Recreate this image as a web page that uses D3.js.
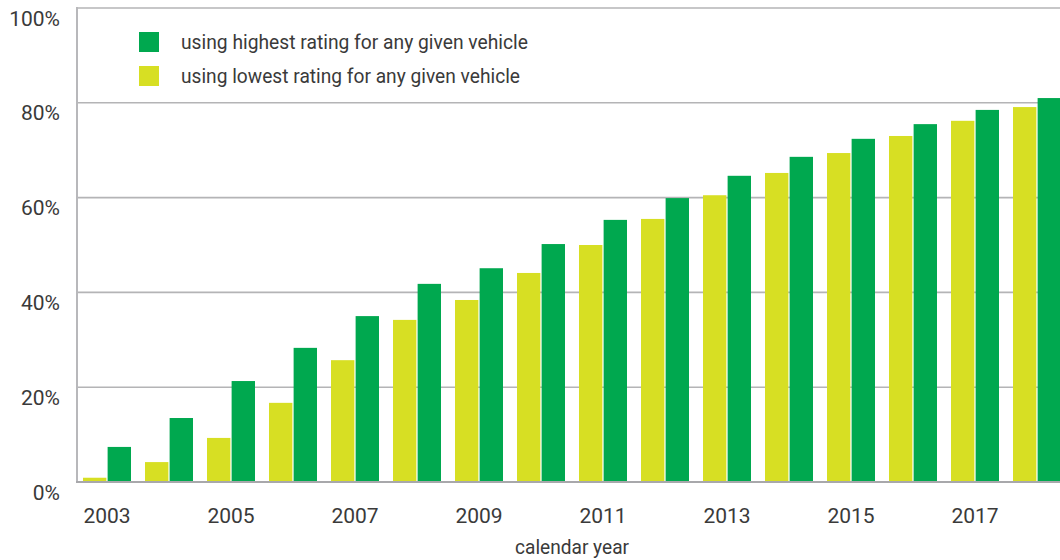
<!DOCTYPE html>
<html>
<head>
<meta charset="utf-8">
<script src="https://cdn.jsdelivr.net/npm/d3@7"></script>
<style>
  html, body { margin: 0; padding: 0; background: #fff; }
  svg { display: block; font-family: Roboto, "Liberation Sans", sans-serif; }
</style>
</head>
<body>
<svg id="chart" width="1060" height="560"></svg>
<script>
const years = ["2003","2004","2005","2006","2007","2008","2009","2010","2011","2012","2013","2014","2015","2016","2017","2018"];
const lowest  = [0.9, 4.2, 9.3, 16.7, 25.7, 34.2, 38.4, 44.1, 50.0, 55.5, 60.5, 65.2, 69.4, 73.0, 76.2, 79.1];
const highest = [7.4, 13.5, 21.3, 28.3, 35.0, 41.8, 45.1, 50.2, 55.3, 59.9, 64.6, 68.6, 72.4, 75.5, 78.5, 81.0];
const seriesKeys = ["lowest", "highest"];
const seriesLabels = {
  highest: "using highest rating for any given vehicle",
  lowest: "using lowest rating for any given vehicle"
};
const yTicks = [0, 20, 40, 60, 80, 100];
const xTickLabels = ["2003","2005","2007","2009","2011","2013","2015","2017"];
const xTitle = "calendar year";

const colors = { highest: "#00a84f", lowest: "#d7df23" };

const svg = d3.select("#chart");
const mLeft = 77, mRight = 1060, mTop = 8, mBottom = 482;

const x = d3.scaleBand().domain(years).range([76, 1068]).paddingInner(14/62).paddingOuter(7/62);
const x1 = d3.scaleBand().domain(seriesKeys).range([0, x.bandwidth()]).paddingInner(0.05);
const y = d3.scaleLinear().domain([0, 100]).range([mBottom, mTop]);

const data = years.map((yr, i) => ({ year: yr, lowest: lowest[i], highest: highest[i] }));

// gridlines
svg.append("g").selectAll("line").data(yTicks.filter(d => d > 0)).join("line")
  .attr("x1", mLeft).attr("x2", mRight)
  .attr("y1", d => y(d)).attr("y2", d => y(d))
  .attr("stroke", "#b4b4b6").attr("stroke-width", 1.6);

// bars
const g = svg.append("g");
g.selectAll("g").data(data).join("g")
  .attr("transform", d => `translate(${x(d.year)},0)`)
  .selectAll("rect").data(d => seriesKeys.map(k => ({ key: k, value: d[k] }))).join("rect")
  .attr("x", d => x1(d.key)).attr("width", x1.bandwidth())
  .attr("y", d => y(d.value)).attr("height", d => y(0) - y(d.value))
  .attr("fill", d => colors[d.key]);

// axes lines
svg.append("line").attr("x1", mLeft).attr("x2", mLeft).attr("y1", mTop - 1).attr("y2", mBottom + 1)
  .attr("stroke", "#b8b8bb").attr("stroke-width", 2);
svg.append("line").attr("x1", mLeft - 1).attr("x2", mRight).attr("y1", mBottom).attr("y2", mBottom)
  .attr("stroke", "#a8a8ab").attr("stroke-width", 2.2);

// y axis labels
const yAxis = d3.axisLeft(y).tickValues(yTicks).tickFormat(d => d + "%").tickSize(0).tickPadding(0);
const ya = svg.append("g").attr("transform", `translate(60,0)`).call(yAxis);
ya.select(".domain").remove();
ya.selectAll("text").attr("font-size", 21).attr("fill", "#3a3a3a")
  .attr("font-family", "Roboto, sans-serif").attr("dy", 17).attr("x", 0);

// x axis labels
const xAxis = d3.axisBottom(x).tickValues(xTickLabels).tickSize(0).tickPadding(0);
const xa = svg.append("g").attr("transform", `translate(0,${mBottom})`).call(xAxis);
xa.select(".domain").remove();
xa.selectAll("text").attr("font-size", 21).attr("fill", "#3a3a3a")
  .attr("font-family", "Roboto, sans-serif").attr("dy", null).attr("y", 41);

svg.append("text").attr("x", (76 + 1068) / 2).attr("y", 554).attr("text-anchor", "middle")
  .attr("font-size", 20).attr("fill", "#3a3a3a").attr("textLength", 114).attr("lengthAdjust", "spacingAndGlyphs")
  .text(xTitle);

// legend
const legendItems = ["highest", "lowest"];
const lg = svg.append("g");
legendItems.forEach((k, i) => {
  lg.append("rect").attr("x", 139).attr("y", 32 + i * 34).attr("width", 20).attr("height", 20).attr("fill", colors[k]);
  lg.append("text").attr("x", 181).attr("y", 49 + i * 34).attr("font-size", 21).attr("fill", "#3a3a3a")
    .attr("textLength", k === "highest" ? 347 : 339).attr("lengthAdjust", "spacingAndGlyphs")
    .text(seriesLabels[k]);
});
</script>
</body>
</html>
